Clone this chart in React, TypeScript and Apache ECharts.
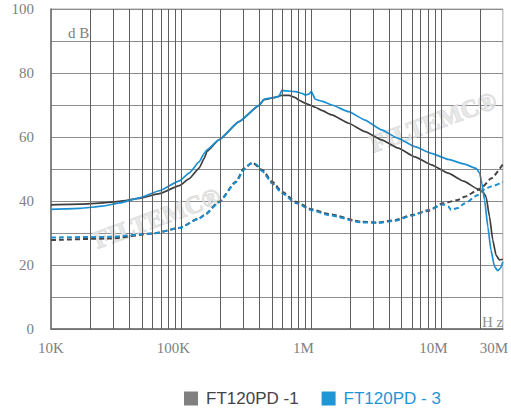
import React, { useEffect, useRef } from "react";
import * as echarts from "echarts";

// FT120PD-1 (gray) solid curve
const S1_FREQ = [10000, 16700, 25000, 33700, 48000, 68300, 97300, 116000, 138000, 151000, 159000, 197000, 280000, 398000, 435000, 519000, 598000, 680000, 761000, 807000, 908000, 1010000, 1080000, 1210000, 1450000, 1950000, 2610000, 3500000, 4700000, 6310000, 8460000, 11400000, 15000000, 19300000, 21000000, 22300000, 23700000, 25100000, 26600000, 28200000, 30000000];
const S1_DB = [38.8, 39.0, 39.4, 39.9, 40.8, 42.3, 44.8, 47.0, 50.3, 53.3, 55.6, 59.2, 64.8, 69.8, 71.6, 72.3, 73.0, 73.0, 72.3, 71.5, 70.5, 69.8, 69.3, 68.3, 66.9, 64.3, 61.7, 59.1, 56.5, 53.8, 51.3, 48.7, 46.2, 43.7, 42.9, 41.3, 35.1, 27.8, 23.1, 21.6, 21.8];

// FT120PD-3 (blue) solid curve
const S3_FREQ = [10000, 16700, 25000, 33700, 48000, 68300, 97300, 116000, 138000, 151000, 159000, 197000, 280000, 398000, 435000, 519000, 567000, 598000, 638000, 761000, 860000, 908000, 970000, 1010000, 1080000, 1210000, 1450000, 1950000, 2610000, 3500000, 4700000, 6310000, 8460000, 11400000, 15000000, 18700000, 19900000, 20700000, 21700000, 23000000, 24300000, 25900000, 27400000, 28800000, 30000000];
const S3_DB = [37.4, 37.7, 38.4, 39.4, 41.0, 43.2, 46.3, 48.8, 52.2, 54.9, 56.0, 59.2, 64.8, 69.9, 71.8, 72.3, 72.6, 74.6, 74.4, 74.2, 73.6, 73.1, 73.5, 74.2, 71.8, 71.2, 70.0, 67.9, 65.3, 62.2, 59.6, 57.0, 54.9, 53.0, 51.6, 50.2, 48.7, 45.5, 40.3, 32.0, 24.7, 19.5, 18.2, 19.0, 21.0];

// FT120PD-1 (gray) dashed curve
const D1_FREQ = [10000, 29200, 62500, 97300, 138000, 151000, 197000, 264000, 306000, 354000, 423000, 504000, 601000, 761000, 1020000, 1370000, 2460000, 3300000, 4430000, 5940000, 7980000, 10400000, 13500000, 15200000, 19300000, 21000000, 24300000, 30000000];
const D1_DB = [27.8, 28.3, 29.9, 31.6, 34.6, 35.6, 39.8, 46.0, 50.2, 52.0, 49.7, 46.0, 42.9, 39.8, 37.4, 35.9, 33.5, 33.3, 34.0, 35.6, 36.9, 39.3, 40.3, 41.3, 43.4, 44.5, 47.0, 51.5];

// FT120PD-3 (blue) dashed curve
const D3_FREQ = [10000, 29200, 62500, 97300, 138000, 151000, 197000, 264000, 306000, 340000, 380000, 423000, 504000, 601000, 761000, 1020000, 1370000, 2460000, 3300000, 4430000, 5940000, 7980000, 10400000, 11400000, 12000000, 13500000, 15200000, 19300000, 21000000, 24300000, 30000000];
const D3_DB = [28.6, 28.8, 29.9, 31.6, 34.5, 35.5, 39.6, 45.8, 49.8, 51.6, 51.4, 49.3, 45.5, 42.4, 39.4, 37.1, 35.6, 33.3, 33.2, 33.8, 35.4, 37.2, 38.9, 38.3, 37.2, 37.8, 39.2, 41.9, 43.4, 44.5, 46.0];

const NAME_1 = "FT120PD -1";
const NAME_3 = "FT120PD - 3";

const X_MIN = 10000;
const X_MAX = 30000000;
const DECADES = [10000, 100000, 1000000, 10000000];
const MULTS = [1, 2, 3, 4, 5, 6, 7, 8, 9];

const GRAY = "#3e3e3e";
const BLUE = "#1b8fd2";

function hzText(v: number): string {
  if (v >= 1e6) return Math.round(v / 1e6) + "M";
  return Math.round(v / 1e3) + "K";
}

export default function App() {
  const ref = useRef<HTMLDivElement>(null);

  useEffect(() => {
    const chart = echarts.init(ref.current!, undefined, { renderer: "svg" });

    const gridFreqs: number[] = [];
    DECADES.forEach((d) =>
      MULTS.forEach((m) => {
        const f = d * m;
        if (f > X_MIN && f < X_MAX) gridFreqs.push(f);
      })
    );

    const pair = (fs: number[], vs: number[]) => fs.map((f, i) => [f, vs[i]]);
    const serif = "'Liberation Serif', 'DejaVu Serif', serif";
    const labelRich = {
      n: { fontFamily: serif, fontSize: 15, color: "#808080" },
      s: { fontFamily: serif, fontSize: 15, color: "#808080", padding: [0, 15, 0, 0] },
      e: { fontFamily: serif, fontSize: 15, color: "#808080", padding: [0, 18, 0, 0] },
    };
    const watermark = (x: number, y: number) => ({
      type: "text",
      x,
      y,
      rotation: 0.35,
      z: 2,
      silent: true,
      style: {
        text: "FILTEMC®",
        font: "bold 25px " + serif,
        fill: "rgba(228,228,228,0.85)",
        stroke: "rgba(200,200,200,0.7)",
        lineWidth: 1,
        align: "center",
        verticalAlign: "middle",
      },
    });

    const option: any = {
      animation: false,
      backgroundColor: "#ffffff",
      grid: {
        left: 51,
        top: 9,
        width: 454,
        height: 320,
        show: true,
        borderColor: "#a8a8a8",
        borderWidth: 1,
      },
      xAxis: {
        type: "log",
        logBase: 10,
        min: X_MIN,
        max: X_MAX,
        axisLine: { show: true, lineStyle: { color: "#6a6a6a", width: 1.5 } },
        axisTick: { show: false },
        splitLine: { show: false },
        axisLabel: {
          margin: 11,
          fontFamily: serif,
          fontSize: 15,
          color: "#808080",
          showMinLabel: true,
          showMaxLabel: true,
          rich: labelRich,
          formatter: (v: number) => {
            const t = hzText(v);
            if (v <= X_MIN * 1.01) return "{n|" + t + "}";
            if (v >= X_MAX * 0.99) return "{e|" + t + "}";
            return "{s|" + t + "}";
          },
        },
      },
      yAxis: {
        type: "value",
        min: 0,
        max: 100,
        interval: 10,
        axisLine: { show: true, lineStyle: { color: "#6a6a6a", width: 1.5 } },
        axisTick: { show: false },
        splitLine: { show: true, lineStyle: { color: "#8c8c8c", width: 1 } },
        axisLabel: {
          margin: 17,
          fontFamily: serif,
          fontSize: 15,
          color: "#808080",
          formatter: (v: number) => (v % 20 === 0 ? String(v) : ""),
        },
      },
      legend: {
        left: 179,
        top: 385,
        icon: "rect",
        itemWidth: 14,
        itemHeight: 14,
        itemGap: 23,
        selectedMode: false,
        itemStyle: { borderWidth: 0 },
        textStyle: {
          fontFamily: "'Liberation Sans', Arial, sans-serif",
          fontSize: 17,
          rich: {
            g: { fontFamily: "'Liberation Sans', Arial, sans-serif", fontSize: 17, color: "#444444", padding: [0, 0, 0, 3] },
            b: { fontFamily: "'Liberation Sans', Arial, sans-serif", fontSize: 17, color: "#1f96d6", padding: [0, 0, 0, 3] },
          },
        },
        formatter: (name: string) => (name === NAME_1 ? "{g|" + name + "}" : "{b|" + name + "}"),
        data: [
          { name: NAME_1, itemStyle: { color: "#808080", borderWidth: 0 } },
          { name: NAME_3, itemStyle: { color: "#1f96d6", borderWidth: 0 } },
        ],
      },
      graphic: [
        {
          type: "text",
          left: 68,
          top: 25,
          z: 5,
          style: { text: "d B", font: "15px " + serif, fill: "#808080" },
        },
        {
          type: "text",
          left: 482,
          top: 314,
          z: 5,
          style: { text: "H z", font: "15px " + serif, fill: "#909090" },
        },
        watermark(157, 218),
        watermark(433, 122),
      ],
      series: [
        {
          name: "grid",
          type: "line",
          data: [],
          z: 1,
          silent: true,
          markLine: {
            silent: true,
            symbol: ["none", "none"],
            label: { show: false },
            lineStyle: { color: "#5e5e5e", width: 1, type: "solid" },
            data: gridFreqs.map((f) => ({ xAxis: f })),
          },
        },
        {
          name: NAME_1,
          type: "line",
          z: 4,
          data: pair(S1_FREQ, S1_DB),
          showSymbol: false,
          smooth: 0.15,
          smoothMonotone: "x",
          lineStyle: { color: GRAY, width: 1.7 },
          itemStyle: { color: GRAY },
        },
        {
          name: NAME_3,
          type: "line",
          z: 4,
          data: pair(S3_FREQ, S3_DB),
          showSymbol: false,
          smooth: 0.15,
          smoothMonotone: "x",
          lineStyle: { color: BLUE, width: 1.7 },
          itemStyle: { color: BLUE },
        },
        {
          name: NAME_1,
          type: "line",
          z: 4,
          data: pair(D1_FREQ, D1_DB),
          showSymbol: false,
          smooth: 0.2,
          smoothMonotone: "x",
          lineStyle: { color: "#444444", width: 2, type: [5, 3] },
          itemStyle: { color: GRAY },
        },
        {
          name: NAME_3,
          type: "line",
          z: 4,
          data: pair(D3_FREQ, D3_DB),
          showSymbol: false,
          smooth: 0.2,
          smoothMonotone: "x",
          lineStyle: { color: BLUE, width: 2, type: [5, 3] },
          itemStyle: { color: BLUE },
        },
      ],
    };

    chart.setOption(option);
    return () => chart.dispose();
  }, []);

  return (
    <div
      ref={ref}
      style={{ position: "fixed", left: 0, top: 0, width: 511, height: 412, background: "#fff" }}
    />
  );
}
